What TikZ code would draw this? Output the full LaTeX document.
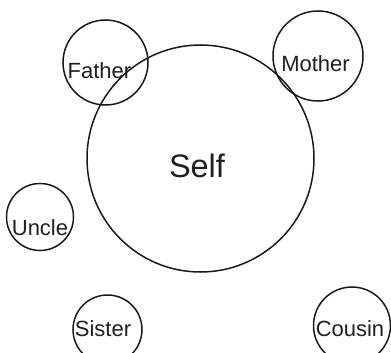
\documentclass[tikz,border=0pt]{standalone}
\usepackage{fontspec}
\setmainfont{Liberation Sans}
\begin{document}
\begin{tikzpicture}[x=1pt,y=-1pt,
  ring/.style={circle,draw=black!90,line width=1.5pt,inner sep=0pt,minimum size=#1},
  lbl/.style={anchor=base,inner sep=0pt,font=\fontsize{22}{24}\selectfont,text=black!88},
  biglbl/.style={anchor=base,inner sep=0pt,font=\fontsize{32.5}{36}\selectfont,text=black!88}]
\useasboundingbox (0,0) rectangle (391,353);
\clip (0,0) rectangle (391,353);
\node[ring=227pt] (self) at (200.5,158.5) {};
\node[ring=85pt] (father) at (105.5,62.5) {};
\node[ring=90pt] (mother) at (318,56) {};
\node[ring=67pt] (uncle) at (40,217) {};
\node[ring=69pt] (sister) at (107.5,329.5) {};
\node[ring=77pt] (cousin) at (352,325.5) {};
\node[biglbl] (tself) at (197,177) {Self};
\node[lbl] (tfather) at (99.5,79) {Father};
\node[lbl] (tmother) at (315.5,72) {Mother};
\node[lbl] (tuncle) at (40,235) {Uncle};
\node[lbl] (tsister) at (103,336) {Sister};
\node[lbl] (tcousin) at (350,336) {Cousin};
\end{tikzpicture}
\end{document}
